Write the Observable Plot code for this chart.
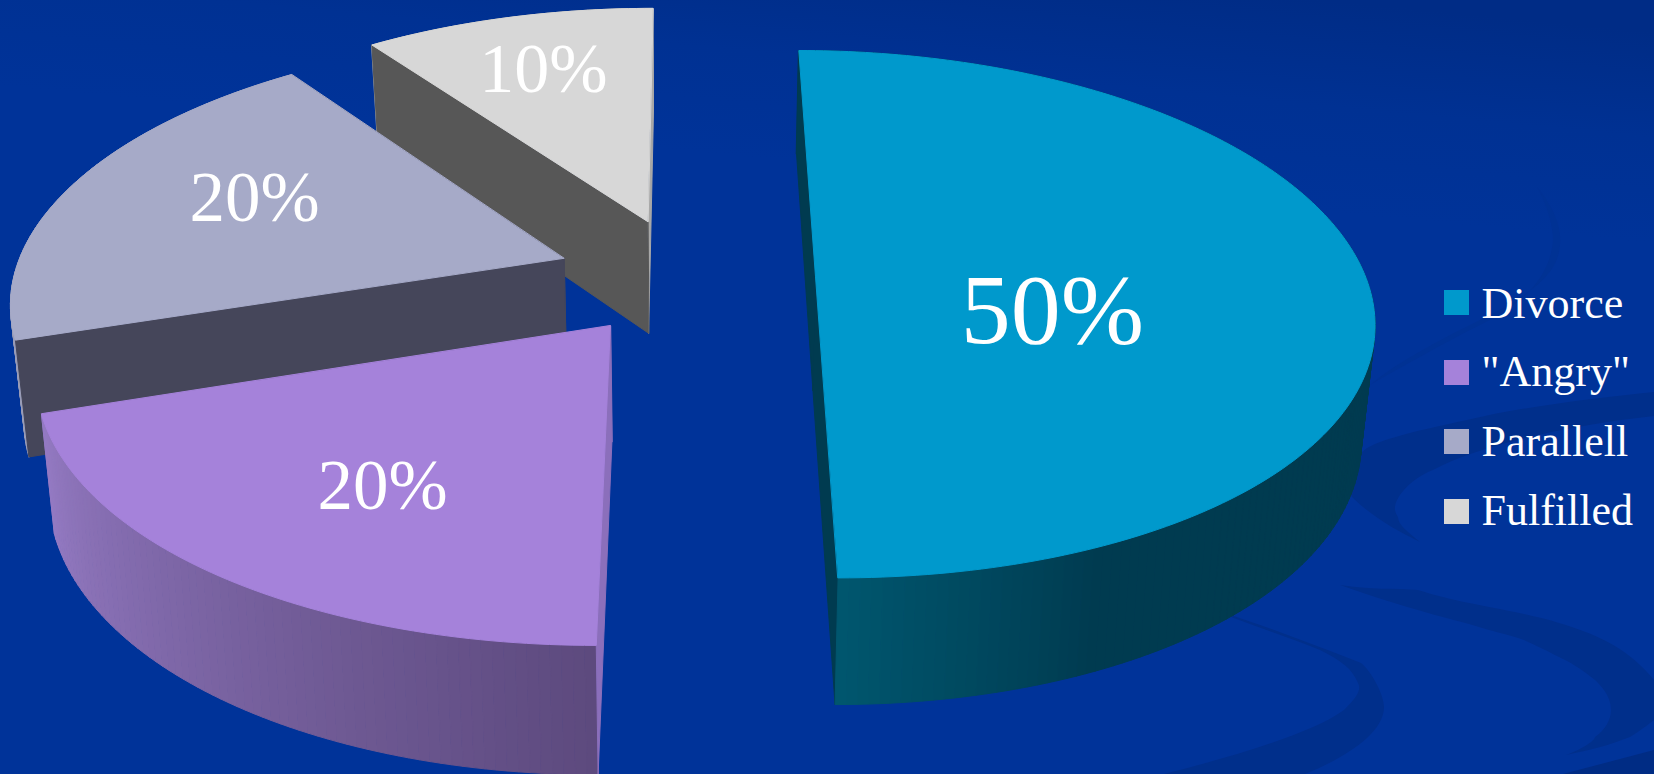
<!DOCTYPE html>
<html>
<head>
<meta charset="utf-8">
<script src="https://cdn.jsdelivr.net/npm/d3@7"></script>
<script src="https://cdn.jsdelivr.net/npm/@observablehq/plot@0.6"></script>
<style>
  html, body { margin: 0; padding: 0; width: 1654px; height: 774px; overflow: hidden; background: #003399; }
  #chart { position: absolute; left: 0; top: 0; }
  #chart svg { display: block; background: transparent; }
</style>
</head>
<body>
<div id="chart"></div>
<script>
// Share of marriages by outcome
const categories = ["Divorce", "\"Angry\"", "Parallell", "Fulfilled"];
const shares = [50, 20, 20, 10];
const topColors = ["#0099cc", "#a582da", "#a6aac8", "#d7d7d7"];
const edgeColors = ["#003b50", "#8b6fbb", "#45465a", "#575757"];
const farEdgeColors = ["#003b50", "#8b6fbb", "#45465a", "#a8a8a8"];
const wallColorsNear = ["#00576f", "#5d4a7e", "#9a9db8", "#a8a8a8"];
const wallColorsFar = ["#003b50", "#957bc4", "#9a9db8", "#a8a8a8"];
// Angles, in degrees clockwise from the top, between which each wall shade fades
const wallFade = [[180, 155], [180, 252], [252, 324], [324, 360]];

// Slide background: diagonal wash plus the template's dark ribbons
const ribbons = [
  ["M1231,615 C1270,628 1310,643 1361,663 C1372,672 1384,695 1384,707 C1384,735 1340,760 1305,774 L1164,774 C1220,760 1310,735 1344,710 C1356,698 1362,690 1358,683 C1352,668 1340,660 1320,650 C1290,638 1260,628 1231,617 Z", "#002f8b"],
  ["M1340,585 C1370,590 1395,588 1418,590 C1450,600 1470,603 1489,607 C1515,612 1540,617 1559,623 C1600,635 1630,650 1654,680 L1654,720 C1645,727 1638,732 1630,737 C1610,745 1590,750 1566,755 C1585,748 1595,740 1595,737 C1605,730 1611,720 1611,710 C1611,695 1600,685 1595,680 C1580,668 1570,662 1559,657 C1545,650 1535,645 1524,640 C1510,635 1500,633 1489,630 C1465,622 1440,617 1418,610 C1390,602 1360,592 1340,585 Z", "#002f8b"],
  ["M1563,774 L1654,750 L1654,774 Z", "#002c84"],
  ["M1654,392 C1600,398 1530,405 1467,420 C1420,430 1385,438 1367,448 L1340,470 L1352,497 C1370,515 1395,530 1420,542 C1408,532 1398,525 1398,517 C1393,510 1395,505 1397,500 C1405,485 1420,475 1433,470 C1480,445 1570,425 1654,416 Z", "#002f8b"],
  ["M1537,187 C1552,205 1562,225 1560,245 C1558,275 1530,295 1480,320 C1440,340 1400,360 1370,385 C1400,368 1440,345 1480,325 C1520,305 1550,280 1553,240 C1553,225 1547,205 1537,187 Z", "#003294"]
].map(([d, c]) => `<path d='${d}' fill='${c}'/>`).join("");
const backdrop = `<svg xmlns='http://www.w3.org/2000/svg' width='1654' height='774'><defs><linearGradient id='w' gradientUnits='userSpaceOnUse' x1='900' y1='-40' x2='880' y2='170'><stop offset='0' stop-color='#002c86'/><stop offset='0.5' stop-color='#003193'/><stop offset='1' stop-color='#003399'/></linearGradient></defs><rect width='1654' height='774' fill='url(#w)'/>${ribbons}</svg>`;
document.body.style.background = `url("data:image/svg+xml,${encodeURIComponent(backdrop)}") no-repeat`;

// Perspective view of the disc: world (u, v) on the top face, v towards the viewer
const view = {px: 687, py: 276, rx: 550, ry: 258.3, kx: 0.15, ky: 0.143, thick: 114, kz: 0.1, pinch: 0.98};
const explode = [[128 / view.rx, 0], [-75 / view.rx, 0.186], [-125 / view.rx, -0.071], [-41 / view.rx, -0.219]];

const project = ([u, v], lower) => {
  const x = view.px + view.rx * u / (1 - view.kx * v);
  const y = view.py + view.ry * v / (1 - view.ky * v);
  return lower
    ? [view.px + (x - view.px) * view.pinch, y + view.thick / (1 - view.kz * v)]
    : [x, y];
};

const arcs = d3.pie().sort(null)(shares);
const deg = Math.PI / 180;
const polygons = [];
const addPolygon = (points, color) => {
  const id = polygons.length ? polygons[polygons.length - 1].id + 1 : 0;
  points.forEach(([x, y]) => polygons.push({id, x, y, color}));
};

// Painted from the back of the disc to the front
[3, 2, 1, 0].forEach(i => {
  const a0 = arcs[i].startAngle / deg, a1 = arcs[i].endAngle / deg;
  const [ou, ov] = explode[i];
  const rim = a => [ou + Math.sin(a * deg), ov - Math.cos(a * deg)];
  const apex = [ou, ov];
  const wall = (p, q, color) =>
    addPolygon([project(p), project(q), project(q, true), project(p, true)], color);

  wall(apex, rim(a1), farEdgeColors[i]);

  // Outer wall, one narrow shaded strip per degree
  const fade = d3.interpolateRgb(wallColorsNear[i], wallColorsFar[i]);
  const [f0, f1] = wallFade[i];
  const steps = Math.ceil(a1 - a0);
  d3.range(steps).forEach(s => {
    const a = a0 + (a1 - a0) * s / steps, b = a0 + (a1 - a0) * (s + 1) / steps;
    const t = f0 < f1 ? (a - f0) / (f1 - f0) : (f0 - a) / (f0 - f1);
    wall(rim(a), rim(b), fade(Math.max(0, Math.min(1, t))));
  });

  wall(apex, rim(a0), edgeColors[i]);

  const outline = d3.range(steps + 1).map(s => project(rim(a0 + (a1 - a0) * s / steps)));
  addPolygon([project(apex), ...outline], topColors[i]);
});

// Value labels and legend rows
const labelX = [1052, 382, 254, 543];
const labelBase = [342, 508, 220, 91];
const labelSize = [100, 71, 71, 70];
const valueLabels = shares.map((v, i) => ({text: `${v}%`, x: labelX[i], y: labelBase[i], size: labelSize[i]}));
const legendRows = categories.map((name, i) => ({
  name, color: topColors[i],
  top: [290, 360, 429, 499][i], base: [317, 385, 455, 524][i]
}));

const chart = Plot.plot({
  width: 1654,
  height: 774,
  margin: 0,
  x: {domain: [0, 1654], range: [0, 1654], axis: null},
  y: {domain: [0, 774], range: [0, 774], axis: null},
  color: {type: "identity"},
  style: {background: "transparent", fontFamily: "'Liberation Serif', serif"},
  marks: [
    Plot.line(polygons, {
      x: "x", y: "y", z: "id", fill: "color", stroke: "color",
      strokeWidth: 1, curve: "linear-closed"
    }),
    Plot.text(valueLabels, {
      x: "x", y: "y", text: "text", fontSize: "size",
      fill: "white", textAnchor: "middle", lineAnchor: "bottom"
    }),
    Plot.rect(legendRows, {
      x1: () => 1444, x2: () => 1469, y1: "top", y2: d => d.top + 25, fill: "color"
    }),
    Plot.text(legendRows, {
      x: () => 1481, y: "base", text: "name", fontSize: 44,
      fill: "white", textAnchor: "start", lineAnchor: "bottom"
    })
  ]
});
document.getElementById("chart").appendChild(chart);
</script>
</body>
</html>
